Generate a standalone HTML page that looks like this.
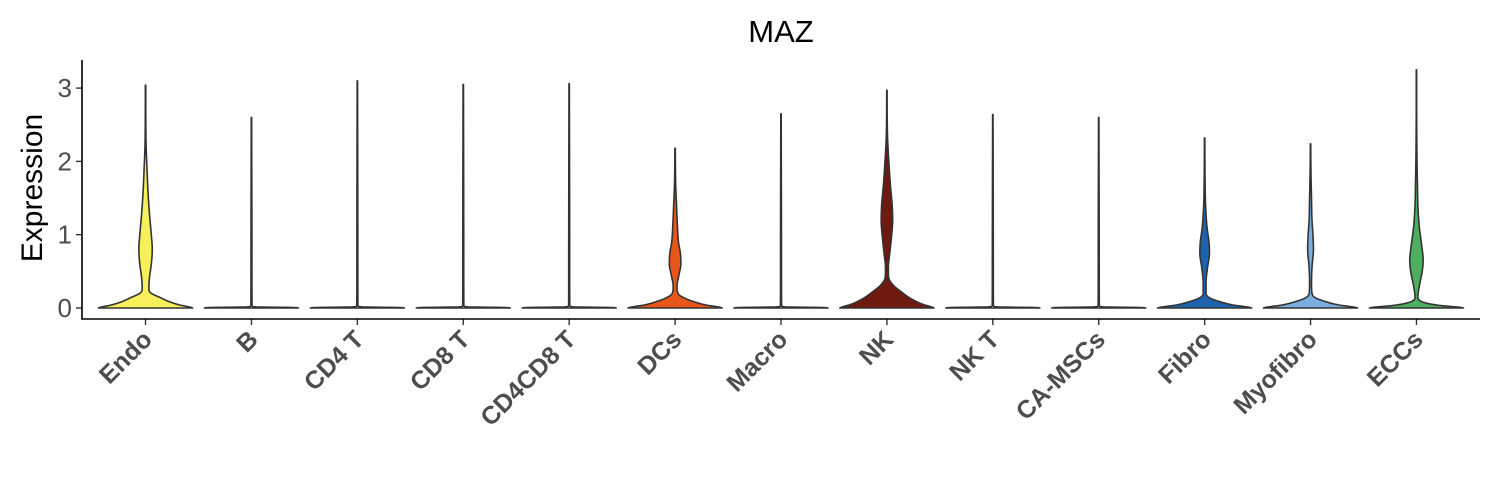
<!DOCTYPE html>
<html><head><meta charset="utf-8"><style>
body{margin:0;background:#fff}
svg{display:block;font-family:"Liberation Sans",Arial,sans-serif}
</style></head><body>
<svg id="chart" width="1500" height="500" viewBox="0 0 1500 500">
<text x="781" y="42" font-size="31" text-anchor="middle" fill="#000">MAZ</text>
<text transform="translate(42,188) rotate(-90)" font-size="30" text-anchor="middle" fill="#000">Expression</text>
<g id="plot"></g>
</svg>
<script>
const categories=["Endo","B","CD4 T","CD8 T","CD4CD8 T","DCs","Macro","NK","NK T","CA-MSCs","Fibro","Myofibro","ECCs"];
const colors=["#f7f05a","#ffffff","#ffffff","#ffffff","#ffffff","#e8561a","#ffffff","#6e1a10","#ffffff","#ffffff","#1c64b0","#7aaee0","#4db060"];
const yTicks=[0,1,2,3];
const maxVals=[3.04,2.6,3.1,3.05,3.06,2.18,2.65,2.97,2.64,2.6,2.32,2.24,3.25];
const emptyV=[0,0.006,0.015,0.03,0.5];
const emptyW=[0.98,0.9,0.1,0.012,0.01];
const dV={
 "Endo":[0,0.01,0.04,0.08,0.15,0.2,0.25,0.4,0.6,0.8,1.0,1.3,1.6,1.9,2.2,2.5],
 "DCs":[0,0.01,0.04,0.08,0.14,0.2,0.3,0.45,0.6,0.75,0.9,1.1,1.4,1.7,2.0],
 "NK":[0,0.01,0.05,0.12,0.22,0.32,0.42,0.55,0.75,1.0,1.2,1.4,1.7,2.0,2.3,2.6],
 "Fibro":[0,0.01,0.04,0.08,0.14,0.2,0.35,0.55,0.75,0.9,1.1,1.4,1.7,2.0],
 "Myofibro":[0,0.01,0.04,0.08,0.14,0.2,0.35,0.55,0.8,1.0,1.2,1.5,1.8,2.0],
 "ECCs":[0,0.01,0.03,0.06,0.1,0.15,0.3,0.5,0.65,0.85,1.1,1.4,1.7,2.0,2.4,2.8]
};
const dW={
 "Endo":[0.98,0.94,0.72,0.52,0.28,0.12,0.07,0.08,0.12,0.14,0.12,0.08,0.05,0.03,0.012,0.006],
 "DCs":[0.98,0.93,0.65,0.42,0.18,0.06,0.04,0.08,0.12,0.11,0.07,0.05,0.03,0.012,0.006],
 "NK":[0.98,0.95,0.75,0.52,0.3,0.12,0.035,0.03,0.06,0.1,0.12,0.11,0.07,0.04,0.015,0.006],
 "Fibro":[0.98,0.92,0.6,0.35,0.1,0.03,0.03,0.06,0.1,0.09,0.05,0.02,0.01,0.006],
 "Myofibro":[0.98,0.92,0.6,0.35,0.1,0.03,0.02,0.03,0.06,0.05,0.03,0.02,0.01,0.006],
 "ECCs":[0.98,0.9,0.55,0.25,0.07,0.03,0.06,0.12,0.14,0.11,0.06,0.03,0.02,0.012,0.006,0.004]
};
const X0=82,X1=1480,Y0=319,Ytop=60;
const unit=(X1-X0)/(categories.length-1+1.2);
const xScale=i=>X0+(0.6+i)*unit;
const yScale=v=>308-v*73.3;
const HW=48;
const ns="http://www.w3.org/2000/svg";
const g=document.getElementById('plot');
function mk(t,a){const e=document.createElementNS(ns,t);for(const k in a)e.setAttribute(k,a[k]);return e;}
function monotone(xs,ys){const n=xs.length,d=[],m=[];
 for(let i=0;i<n-1;i++)d.push((ys[i+1]-ys[i])/(xs[i+1]-xs[i]));
 m[0]=d[0];m[n-1]=d[n-2];
 for(let i=1;i<n-1;i++)m[i]=(d[i-1]*d[i]<=0)?0:(d[i-1]+d[i])/2;
 for(let i=0;i<n-1;i++){if(d[i]===0){m[i]=0;m[i+1]=0;continue;}const a=m[i]/d[i],b=m[i+1]/d[i],s=a*a+b*b;if(s>9){const t=3/Math.sqrt(s);m[i]=t*a*d[i];m[i+1]=t*b*d[i];}}
 return x=>{let i=0;while(i<n-2&&x>xs[i+1])i++;const h=xs[i+1]-xs[i],t=(x-xs[i])/h,t2=t*t,t3=t2*t;
 return (2*t3-3*t2+1)*ys[i]+(t3-2*t2+t)*h*m[i]+(-2*t3+3*t2)*ys[i+1]+(t3-t2)*h*m[i+1];};}
categories.forEach((c,i)=>{
 const cx=xScale(i);
 let vs=dV[c]?dV[c].slice():emptyV.slice(), ws=dW[c]?dW[c].slice():emptyW.slice();
 vs.push(maxVals[i]);ws.push(0.004);
 const f=monotone(vs,ws);
 const samples=[];
 for(let k=0;k<=80;k++){samples.push(vs[0]+(0.3)*k/80);} // dense near base
 for(let v=0.3;v<maxVals[i];v+=0.02)samples.push(v);
 samples.push(maxVals[i]);
 const vsS=samples.filter(v=>v<=maxVals[i]);
 const right=vsS.map(v=>[cx+Math.max(0.004,f(v))*HW,yScale(v)]);
 const left=vsS.map(v=>[cx-Math.max(0.004,f(v))*HW,yScale(v)]).reverse();
 const pts=right.concat(left);
 const d="M"+pts.map(p=>p[0].toFixed(2)+","+p[1].toFixed(2)).join(" L")+" Z";
 const p=mk('path',{d:d,fill:colors[i],stroke:"#333",'stroke-width':1.6,'stroke-linejoin':'round'});
 
 
 g.appendChild(p);
 const t=mk('line',{x1:cx,x2:cx,y1:Y0,y2:Y0+6,stroke:"#333",'stroke-width':1.4});
 
 
 g.appendChild(t);
 const lb=mk('text',{transform:`translate(${cx+8},${Y0+22}) rotate(-45)`,'text-anchor':'end','font-size':25,'font-weight':'bold',fill:'#4d4d4d'});
 lb.textContent=c;
 
 
 g.appendChild(lb);
});
yTicks.forEach(v=>{
 const y=yScale(v);
 const t=mk('line',{x1:X0-6,x2:X0,y1:y,y2:y,stroke:"#333",'stroke-width':1.4});
 
 
 g.appendChild(t);
 const lb=mk('text',{x:X0-10,y:y+9,'text-anchor':'end','font-size':26,fill:'#4d4d4d'});
 lb.textContent=v;
 
 
 g.appendChild(lb);
});
const ax=mk('path',{d:`M${X0},${Ytop} V${Y0} H${X1}`,fill:'none',stroke:'#000','stroke-width':1.6});


g.appendChild(ax);
</script>
</body></html>
